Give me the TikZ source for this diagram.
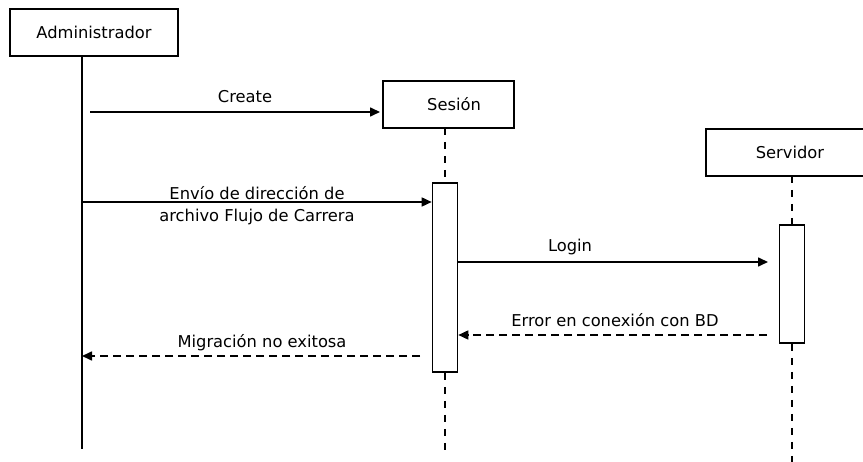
\documentclass[tikz,border=0pt]{standalone}
\usepackage{fontspec}
\setmainfont{DejaVu Sans}
\usetikzlibrary{arrows.meta}
\begin{document}
\begin{tikzpicture}[x=1pt,y=-1pt,
  every node/.style={font=\fontsize{16.3}{22}\selectfont},
  actor/.style={draw,line width=1.6pt,inner sep=0pt,minimum height=47pt,align=center},
  actbar/.style={draw,line width=1.6pt,fill=white,inner sep=0pt,minimum width=25pt},
  life/.style={line width=1.6pt},
  dlife/.style={line width=1.8pt,dash pattern=on 7pt off 7pt},
  msg/.style={line width=1.6pt,-{Triangle[length=10pt,width=9pt]}},
  ret/.style={msg,dash pattern=on 8pt off 5pt},
  lbl/.style={inner sep=0pt,anchor=center,align=center}]
\useasboundingbox (0,0) rectangle (863,462);
\clip (0,0) rectangle (863,462);
% actors
\node[actor,minimum width=168pt] (adm) at (94,32.5) {Administrador};
\node[actor,minimum width=131pt] (ses) at (448.5,104.5) {\hspace*{11pt}Sesión};
\node[actor,minimum width=168pt] (srv) at (790,152.5) {Servidor};
% activation bars
\node[actbar,minimum height=189pt] (sesA) at (445,277.5) {};
\node[actbar,minimum height=118pt] (srvA) at (792,284) {};
% lifeline coordinates
\coordinate (admTop) at (82,56);
\coordinate (admBot) at (82,449);
\coordinate (sesTop) at (445,128);
\coordinate (sesBot) at (445,452);
\coordinate (srvTop) at (792,176);
\coordinate (srvBot) at (792,464);
% lifelines
\draw[life] (admTop) -- (admBot);
\draw[dlife] (sesTop) -- (sesA.north);
\draw[dlife] (sesA.south) -- (sesBot);
\draw[dlife] (srvTop) -- (srvA.north);
\draw[dlife] (srvA.south) -- (srvBot);
% message endpoints
\coordinate (c1) at (90,112);
\coordinate (c1e) at (380,112);
\coordinate (c2) at (82,202);
\coordinate (c3e) at (768,262);
\coordinate (c4) at (767,335);
\coordinate (c5) at (420,356);
\coordinate (c5e) at (82,356);
% messages
\draw[msg] (c1) -- (c1e);
\draw[msg] (c2) -- (c2 -| sesA.west);
\draw[msg] (sesA.east |- c3e) -- (c3e);
\draw[ret] (c4) -- (c4 -| sesA.east);
\draw[ret] (c5) -- (c5e);
% labels
\node[lbl] (l1) at (245,97) {Create};
\node[lbl] (l2) at (257,206) {Envío de dirección de\\archivo Flujo de Carrera};
\node[lbl] (l3) at (570,247) {Login};
\node[lbl] (l4) at (615,320) {Error en conexión con BD};
\node[lbl] (l5) at (262,343) {Migración no exitosa};
\end{tikzpicture}
\end{document}
